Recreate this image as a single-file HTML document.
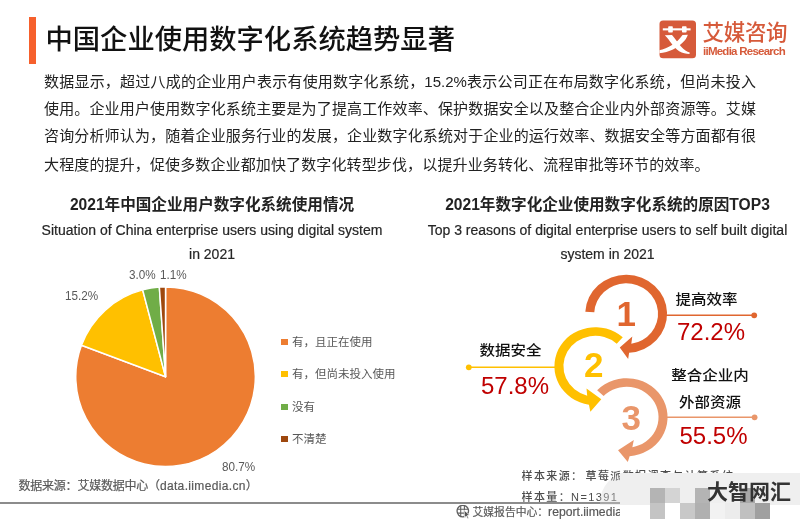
<!DOCTYPE html>
<html lang="zh-CN">
<head>
<meta charset="utf-8">
<style>
*{margin:0;padding:0;box-sizing:border-box;}
html,body{width:800px;height:521px;overflow:hidden;background:#fff;}
body{position:relative;font-family:"Liberation Sans","Noto Sans CJK SC",sans-serif;color:#333;}
.a{position:absolute;white-space:nowrap;}
#bar{left:29.2px;top:17.2px;width:6.8px;height:46.6px;background:#F6602C;}
#title{left:45.5px;top:21.5px;font-size:27.3px;line-height:36px;font-weight:500;color:#111;letter-spacing:0px;}
.p{left:44px;width:712px;font-size:15px;line-height:20px;color:#222;text-align:justify;text-align-last:justify;}
.ct{font-size:15.6px;font-weight:700;color:#222;line-height:20px;text-align:center;}
.cs{font-size:14px;color:#262626;-webkit-text-stroke:0.2px #262626;line-height:20px;text-align:center;}
.lg{font-size:11.5px;color:#595959;line-height:14px;}
.sq{position:absolute;width:6.7px;height:6.3px;}
.pl{font-size:13px;color:#595959;line-height:14px;transform:scaleX(0.9);transform-origin:0 0;}
.lab{font-size:15.5px;font-weight:500;color:#111;line-height:20px;transform:scaleY(0.9);transform-origin:50% 50%;}
.pct{font-size:24px;color:#C00000;line-height:28px;}
.src{font-size:12px;color:#595959;line-height:14px;}
</style>
</head>
<body>
<div class="a" id="bar"></div>
<div class="a" id="title">中国企业使用数字化系统趋势显著</div>

<!-- logo -->
<svg class="a" style="left:659px;top:19.5px" width="38" height="39" viewBox="0 0 38 39">
<defs><clipPath id="lc"><rect x="0.5" y="0.4" width="36.5" height="37.9" rx="3.6"/></clipPath></defs>
<rect x="0.5" y="0.4" width="36.5" height="37.9" rx="3.6" fill="#D65A3A"/>
<g fill="#fff" clip-path="url(#lc)">
<rect x="3.8" y="8.3" width="27.8" height="2.1"/>
<rect x="9.2" y="6.2" width="4.6" height="6.4" rx="0.8"/>
<rect x="23" y="6.2" width="4.6" height="6.4" rx="0.8"/>
<path d="M5.8 15.2 L13 14.9 C16 18.5 19 23 22 26.5 C25 29.8 28 31.8 30.7 32.5 L30.5 33.9 C27 33.9 23.5 33 20.2 31.3 C16.5 28.5 14 25.5 12.5 23.5 C10.5 20.5 8.5 18 5.8 15.2 Z"/>
<path d="M28.8 14.7 L23.5 14.9 C20.5 19 17 22.5 13 25 C9 27.5 4.5 29.3 0 30.3 L0 33.2 C5 32.8 10 31.5 14 29.5 C19 27 23.5 23 25.9 20.2 C27.3 18.5 28.2 16.5 28.8 14.7 Z"/>
</g>
</svg>
<div class="a" style="left:702.5px;top:17.5px;font-size:21.5px;line-height:30px;color:#D65A3A;font-weight:500;font-family:'Liberation Sans','Noto Sans CJK SC',sans-serif;letter-spacing:-0.3px;">艾媒咨询</div>
<div class="a" style="left:703px;top:44px;font-size:11.5px;line-height:14px;color:#D65A3A;letter-spacing:-0.75px;font-weight:700;">iiMedia Research</div>

<!-- paragraph -->
<div class="a p" style="top:72.2px;">数据显示，超过八成的企业用户表示有使用数字化系统，15.2%表示公司正在布局数字化系统，但尚未投入</div>
<div class="a p" style="top:98.5px;">使用。企业用户使用数字化系统主要是为了提高工作效率、保护数据安全以及整合企业内外部资源等。艾媒</div>
<div class="a p" style="top:126px;">咨询分析师认为，随着企业服务行业的发展，企业数字化系统对于企业的运行效率、数据安全等方面都有很</div>
<div class="a" style="left:44px;top:154.5px;font-size:15px;line-height:20px;color:#222;letter-spacing:0.13px;">大程度的提升，促使多数企业都加快了数字化转型步伐，以提升业务转化、流程审批等环节的效率。</div>

<!-- left chart -->
<div class="a ct" style="left:0;width:424px;top:195px;">2021年中国企业用户数字化系统使用情况</div>
<div class="a cs" style="left:0;width:424px;top:220px;">Situation of China enterprise users using digital system</div>
<div class="a cs" style="left:0;width:424px;top:244px;">in 2021</div>

<svg class="a" style="left:0;top:0" width="800" height="521" viewBox="0 0 800 521">
<g stroke="#fff" stroke-width="1.5" stroke-linejoin="round">
<path id="s1" d="M165.55 376.70 L165.55 286.90 A89.8 89.8 0 1 1 81.45 345.22 Z" fill="#ED7D31"/>
<path id="s2" d="M165.55 376.70 L81.45 345.22 A89.8 89.8 0 0 1 142.67 289.86 Z" fill="#FFC000"/>
<path id="s3" d="M165.55 376.70 L142.67 289.86 A89.8 89.8 0 0 1 159.35 287.11 Z" fill="#70AD47"/>
<path id="s4" d="M165.55 376.70 L159.35 287.11 A89.8 89.8 0 0 1 165.55 286.90 Z" fill="#9E480E"/>
</g>
</svg>

<div class="a pl" style="left:128.5px;top:268px;">3.0%</div>
<div class="a pl" style="left:159.5px;top:268px;">1.1%</div>
<div class="a pl" style="left:64.8px;top:289px;">15.2%</div>
<div class="a pl" style="left:221.5px;top:459.8px;">80.7%</div>

<div class="sq" style="left:281.1px;top:338.8px;background:#ED7D31"></div>
<div class="a lg" style="left:292px;top:335px;">有，且正在使用</div>
<div class="sq" style="left:281px;top:371px;background:#FFC000"></div>
<div class="a lg" style="left:292px;top:367px;">有，但尚未投入使用</div>
<div class="sq" style="left:281px;top:403.5px;background:#70AD47"></div>
<div class="a lg" style="left:292px;top:399.5px;">没有</div>
<div class="sq" style="left:281px;top:436px;background:#9E480E"></div>
<div class="a lg" style="left:292px;top:432px;">不清楚</div>

<div class="a src" style="left:18.5px;top:478.5px;-webkit-text-stroke:0.2px #595959;"><span style="letter-spacing:-0.22px">数据来源：艾媒数据中心（</span><span style="letter-spacing:0.35px">data.iimedia.cn</span>）</div>

<!-- right chart -->
<div class="a ct" style="left:400px;width:415px;top:195px;">2021年数字化企业使用数字化系统的原因TOP3</div>
<div class="a cs" style="left:400px;width:415px;top:220px;">Top 3 reasons of digital enterprise users to self built digital</div>
<div class="a cs" style="left:400px;width:415px;top:244px;">system in 2021</div>

<svg class="a" style="left:0;top:0" width="800" height="521" viewBox="0 0 800 521">
<!-- connector lines -->
<line x1="660" y1="315.3" x2="754.2" y2="315.3" stroke="#E0662F" stroke-width="1.4"/>
<circle cx="754.2" cy="315.3" r="2.9" fill="#E0662F"/>
<line x1="468.8" y1="367.3" x2="560" y2="367.3" stroke="#FFC000" stroke-width="1.4"/>
<circle cx="468.8" cy="367.3" r="2.9" fill="#FFC000"/>
<line x1="660" y1="417.3" x2="754.6" y2="417.3" stroke="#E9966A" stroke-width="1.4"/>
<circle cx="754.6" cy="417.3" r="2.9" fill="#E9966A"/>
<path id="arc1" d="M585.31 311.76 A40.90 39.06 0 1 1 629.11 352.76 L628.15 359.10 L619.75 347.40 L632.30 336.60 L631.31 343.86 A31.90 30.46 0 1 0 594.29 312.21 Z" fill="#E0662F"/>
<path id="arc2" d="M622.77 337.26 A40.90 39.06 0 1 0 588.96 404.79 L590.35 411.70 L601.30 399.30 L586.50 388.45 L587.19 395.66 A31.90 30.46 0 1 1 616.73 343.63 Z" fill="#FFC000"/>
<path id="arc3" d="M597.13 390.17 A40.90 39.06 0 1 1 629.60 456.16 L627.80 462.00 L618.05 450.30 L633.80 440.10 L632.35 447.17 A31.90 30.46 0 1 0 603.63 396.11 Z" fill="#E9966A"/>
</svg>

<div class="a" style="left:616.5px;top:296px;font-size:35px;font-weight:700;line-height:36px;color:#E0662F;">1</div>
<div class="a" style="left:584px;top:347px;font-size:35px;font-weight:700;line-height:36px;color:#FFC000;">2</div>
<div class="a" style="left:621.5px;top:400px;font-size:35px;font-weight:700;line-height:36px;color:#E9966A;">3</div>

<div class="a lab" style="left:675.5px;top:288.6px;">提高效率</div>
<div class="a pct" style="left:677px;top:318px;">72.2%</div>
<div class="a lab" style="left:479.5px;top:340px;">数据安全</div>
<div class="a pct" style="left:481px;top:371.8px;">57.8%</div>
<div class="a lab" style="left:671.2px;top:364.6px;">整合企业内</div>
<div class="a lab" style="left:679px;top:392px;">外部资源</div>
<div class="a pct" style="left:679.5px;top:422px;">55.5%</div>

<div class="a src" style="left:521.5px;top:469px;font-size:11px;letter-spacing:1.4px;font-weight:500;color:#4d4d4d;">样本来源<span style="margin-right:2px">：</span>草莓派数据调查与计算系统</div>
<div class="a src" style="left:521.5px;top:489.8px;font-size:11px;letter-spacing:1.4px;font-weight:500;color:#4d4d4d;">样本量：N=1391</div>

<!-- bottom line + footer -->
<div class="a" style="left:0;top:502px;width:620px;height:1.5px;background:#8c8c8c;"></div>
<svg class="a" style="left:456px;top:505px" width="16" height="16" viewBox="0 0 16 16">
<defs><clipPath id="gc"><circle cx="6.8" cy="6.1" r="5.6"/></clipPath></defs>
<g fill="none" stroke="#606060" stroke-width="1.3">
<circle cx="6.8" cy="6.1" r="5.75"/>
<g clip-path="url(#gc)" stroke-width="1.1">
<line x1="0" y1="4.3" x2="14" y2="4.3"/><line x1="0" y1="8.1" x2="14" y2="8.1"/>
<line x1="4.7" y1="0" x2="4.7" y2="13"/><line x1="8.4" y1="0" x2="8.4" y2="13"/>
</g>
</g>
<path d="M8.2 5.3 L8.6 12.7 L10.2 11 L11.6 13.7 L12.7 13.1 L11.3 10.4 L13.6 10.1 Z" fill="#555" stroke="#fff" stroke-width="0.7" stroke-linejoin="round"/>
</svg>
<div class="a src" style="left:472.5px;top:504.5px;font-size:10.8px;-webkit-text-stroke:0.2px #595959;">艾媒报告中心：<span style="font-size:12.2px;">report.iimedia.cn</span></div>

<!-- watermark -->
<div class="a" style="left:600px;top:473px;width:40px;height:31.5px;background:rgba(215,215,215,0.37);border-top-left-radius:28px 30px;"></div>
<div class="a" style="left:620px;top:473px;width:180px;height:31.5px;background:#efefef;"></div>
<div class="a" style="left:620px;top:504.5px;width:180px;height:17px;background:#fff;"></div>
<div class="a" style="left:650px;top:488px;width:15px;height:15px;background:#b4b4b4;"></div>
<div class="a" style="left:665px;top:488px;width:15px;height:15px;background:#d4d4d4;"></div>
<div class="a" style="left:695px;top:488px;width:15px;height:15px;background:#b4b4b4;"></div>
<div class="a" style="left:650px;top:503px;width:15px;height:16px;background:#c4c4c4;"></div>
<div class="a" style="left:665px;top:503px;width:15px;height:16px;background:#ffffff;"></div>
<div class="a" style="left:680px;top:503px;width:15px;height:16px;background:#c8c8c8;"></div>
<div class="a" style="left:695px;top:503px;width:15px;height:16px;background:#b0b0b0;"></div>
<div class="a" style="left:710px;top:503px;width:15px;height:16px;background:#f2f2f2;"></div>
<div class="a" style="left:725px;top:503px;width:15px;height:16px;background:#ececec;"></div>
<div class="a" style="left:740px;top:503px;width:15px;height:16px;background:#c0c0c0;"></div>
<div class="a" style="left:755px;top:503px;width:15px;height:16px;background:#a0a0a0;"></div>
<div class="a" style="left:740px;top:488px;width:15px;height:15px;background:#a8a8a8;"></div>
<div class="a" style="left:707px;top:477.5px;font-size:21px;line-height:28px;font-weight:700;color:#333;font-family:'Liberation Sans','Noto Sans CJK SC',sans-serif;">大智网汇</div>
</body>
</html>
